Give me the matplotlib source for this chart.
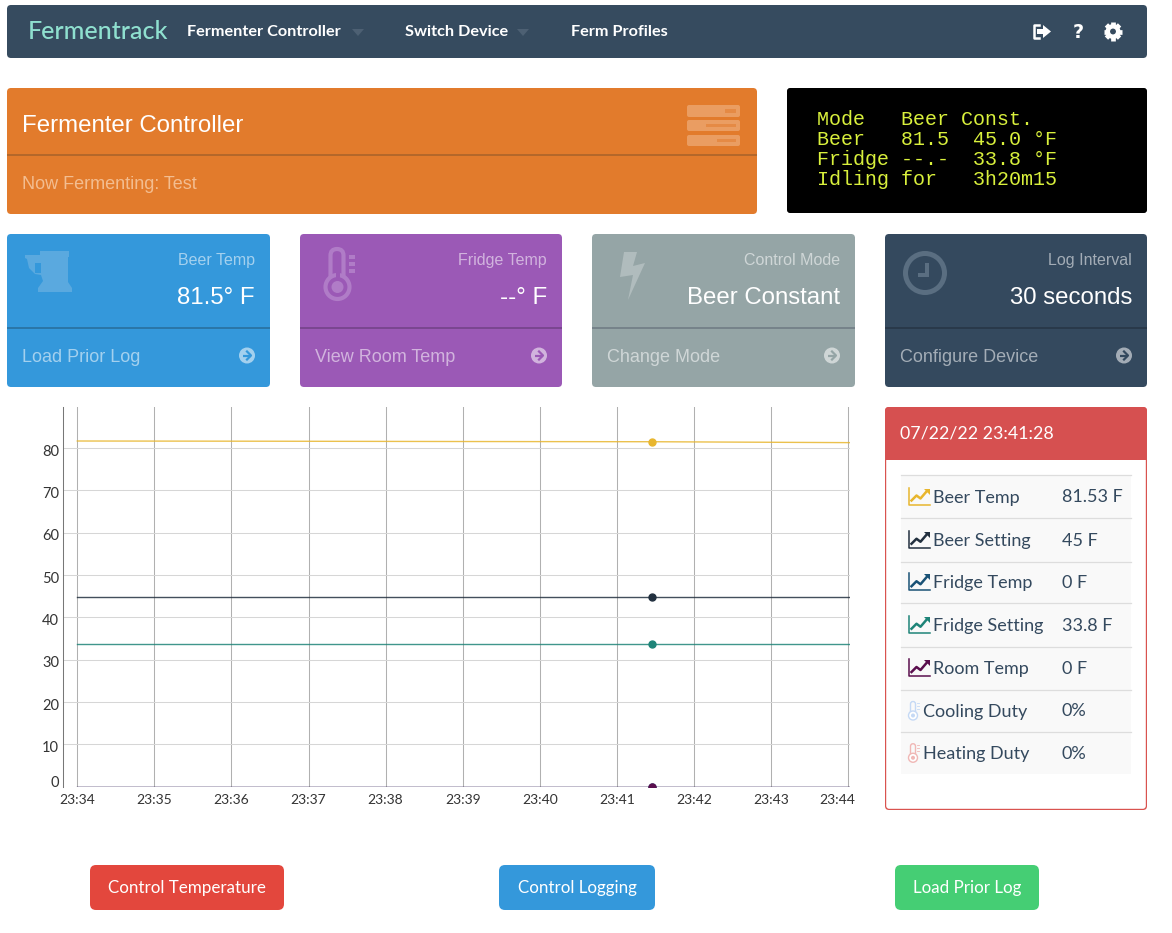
import numpy as np
import matplotlib
matplotlib.use("Agg")
import matplotlib.pyplot as plt
from matplotlib.patches import FancyBboxPatch, Rectangle, Circle, Polygon
from matplotlib.transforms import ScaledTranslation

# chart data, minutes after 23:34
times = [0, 2.5, 5, 7.46, 10.2]
beer_temp = [81.7, 81.65, 81.58, 81.53, 81.3]
beer_setting = [44.9, 44.9, 44.9, 44.9, 44.9]
fridge_temp = [0, 0, 0, 0, 0]
fridge_setting = [33.7, 33.7, 33.7, 33.7, 33.7]
room_temp = [0, 0, 0, 0, 0]

x_labels = ['23:34', '23:35', '23:36', '23:37', '23:38', '23:39', '23:40', '23:41', '23:42', '23:43', '23:44']
y_ticks = [0, 10, 20, 30, 40, 50, 60, 70, 80]

# side table
row_names = ['Beer Temp', 'Beer Setting', 'Fridge Temp', 'Fridge Setting', 'Room Temp', 'Cooling Duty', 'Heating Duty']
row_values = ['81.53 F', '45 F', '0 F', '33.8 F', '0 F', '0%', '0%']
row_colors = ['#e8b62e', '#22303f', '#1a5276', '#1e8478', '#5b0f4e', '#c5d9f5', '#f0b7b5']

# tiles
tile_titles = ['Beer Temp', 'Fridge Temp', 'Control Mode', 'Log Interval']
tile_values = ['81.5° F', '--° F', 'Beer Constant', '30 seconds']
tile_links = ['Load Prior Log', 'View Room Temp', 'Change Mode', 'Configure Device']
tile_colors = ['#3498db', '#9b59b6', '#95a5a6', '#34495e']
tile_lines = ['#2a76a8', '#7a4690', '#76838a', '#29394a']

lcd_lines = ['Mode   Beer Const.', 'Beer   81.5  45.0 °F', 'Fridge --.-  33.8 °F', 'Idling for   3h20m15']

W, H = 1172, 933
fig = plt.figure(figsize=(W / 100, H / 100), dpi=100)
bg = fig.add_axes([0, 0, 1, 1])
bg.set_xlim(0, W)
bg.set_ylim(H, 0)
bg.axis('off')


def box(x0, y0, x1, y1, color, r=4, **kw):
    p = FancyBboxPatch((x0 + r, y0 + r), x1 - x0 - 2 * r, y1 - y0 - 2 * r,
                       boxstyle='round,pad=%g,rounding_size=%g' % (r, r),
                       fc=color, ec='none', **kw)
    bg.add_patch(p)
    return p


def txt(x, y, s, size, color='white', family='Lato', ha='left', **kw):
    # size is given in css pixels, the 1.5 brings the text down onto the reference
    bg.text(x, y + 1.5, s, fontsize=size * 0.72, color=color, family=family, ha=ha, va='center', **kw)


def arrow_circle(cx, cy, back):
    bg.plot([cx - 4.5, cx + 4], [cy, cy], color=back, lw=1.6, solid_capstyle='butt')
    bg.plot([cx, cx + 4, cx], [cy - 4, cy, cy + 4], color=back, lw=1.6)


def chart_icon(x, y, color):
    bg.plot([x, x, x + 21], [y - 15, y + 2, y + 2], color=color, lw=1.1)
    bg.plot([x + 3, x + 8, x + 12, x + 18], [y - 2, y - 7, y - 4, y - 11], color=color, lw=1.8)
    bg.add_patch(Polygon([[x + 15, y - 14], [x + 21, y - 14], [x + 21, y - 8]], fc=color, ec='none'))


def small_thermo(cx, cy, color):
    bg.add_patch(FancyBboxPatch((cx - 2.5, cy - 9), 5, 14,
                                boxstyle='round,pad=0,rounding_size=2.5',
                                fc='none', ec=color, lw=1))
    bg.add_patch(Circle((cx, cy + 5), 4.5, fc='white', ec=color, lw=1))
    bg.add_patch(Circle((cx, cy + 5), 2, fc=color, ec='none'))
    for dy in [-8, -5, -2]:
        bg.plot([cx + 4, cx + 6], [cy + dy, cy + dy], color=color, lw=0.6)


# navbar
box(7, 5, 1147, 58, '#364b5f')
txt(28, 30, 'Fermentrack', 25, color='#8fe0cf', weight='medium')
txt(187, 30, 'Fermenter Controller', 16.2, weight='bold')
bg.add_patch(Polygon([[352, 29], [364, 29], [358, 36]], fc='#4d6073', ec='none'))
txt(405, 30, 'Switch Device', 16.2, weight='bold')
bg.add_patch(Polygon([[517, 29], [529, 29], [523, 36]], fc='#4d6073', ec='none'))
txt(571, 30, 'Ferm Profiles', 16.2, weight='bold')
# sign out, help, settings
bg.plot([1039, 1033.5, 1033.5, 1039], [25, 25, 38, 38], color='white', lw=1.8)
bg.add_patch(Polygon([[1037, 29], [1043, 29], [1043, 25], [1051, 31.5], [1043, 38], [1043, 34], [1037, 34]], fc='white', ec='none'))
txt(1078, 30.5, '?', 19, family='DejaVu Sans', ha='center', weight='bold')
for a in np.arange(0, 360, 45):
    c, s = np.cos(np.radians(a)), np.sin(np.radians(a))
    bg.plot([1113 + 5 * c, 1113 + 9.3 * c], [31.5 + 5 * s, 31.5 + 9.3 * s], color='white', lw=3.4, solid_capstyle='butt')
bg.add_patch(Circle((1113, 31.5), 5.2, fc='none', ec='white', lw=3.2))

# orange header
box(7, 88, 757, 214, '#e27b2c')
bg.add_patch(Rectangle((7, 154), 750, 2, fc='#b4672a', ec='none'))
txt(22, 124.5, 'Fermenter Controller', 24, family='Liberation Sans')
txt(22, 183, 'Now Fermenting: Test', 18, color='#f3bd90', family='Liberation Sans')
# server icon
server_y = [(105, 117), (120, 131), (135, 146)]
slot_x = [725, 706, 717]
for (y0, y1), sx in zip(server_y, slot_x):
    box(687, y0, 740, y1, '#ea9d62', r=2)
    bg.add_patch(Rectangle((sx, (y0 + y1) / 2 - 1.7), 736 - sx, 3.4, fc='#e58a45', ec='none'))

# lcd
box(787, 88, 1147, 213, 'black', r=3)
for i, line in enumerate(lcd_lines):
    txt(817, 118 + i * 20, line, 20, color='#d9f03c', family='Liberation Mono')

# tiles
tile_x = [(7, 270), (300, 562), (592, 855), (885, 1147)]
for i, (x0, x1) in enumerate(tile_x):
    box(x0, 234, x1, 387, tile_colors[i])
    bg.add_patch(Rectangle((x0, 327), x1 - x0, 2, fc=tile_lines[i], ec='none'))
    txt(x1 - 15, 259, tile_titles[i], 16, family='Liberation Sans', ha='right', alpha=0.55)
    txt(x1 - 15, 297, tile_values[i], 24, family='Liberation Sans', ha='right')
    txt(x0 + 15, 355.5, tile_links[i], 18, family='Liberation Sans', alpha=0.55)
    bg.add_patch(Circle((x1 - 23, 355.5), 8, fc='white', ec='none', alpha=0.55))
    arrow_circle(x1 - 23, 355.5, tile_colors[i])

# beer mug
mug = '#5aa9df'
bg.add_patch(Polygon([[40, 251], [69, 251], [69, 257], [68, 257], [68, 282], [72, 288], [72, 292],
                      [38, 292], [38, 288], [43, 281], [41, 275], [35, 274], [29, 268], [27, 259],
                      [25, 258], [25, 255], [40, 255]], fc=mug, ec='none'))
bg.add_patch(Rectangle((35, 263), 6, 10, fc='#3498db', ec='none'))

# big thermometer
th = '#b07cc7'
bg.add_patch(FancyBboxPatch((330.5, 249), 13, 36, boxstyle='round,pad=0,rounding_size=6.5', fc='none', ec=th, lw=3))
bg.add_patch(Circle((337.5, 287), 12, fc='#9b59b6', ec=th, lw=3))
bg.add_patch(Rectangle((335.5, 255), 4, 28, fc='#9b59b6', ec='none'))
bg.add_patch(Circle((337.5, 287), 6, fc=th, ec='none'))
for y in [257, 264, 271]:
    bg.add_patch(Rectangle((349, y - 2), 6, 4, fc=th, ec='none'))

# bolt
bg.add_patch(Polygon([[624, 252], [637, 252], [633, 266], [645, 263], [628, 300], [633, 275], [620, 277]], fc='#b0bcbd', ec='none'))

# clock
ck = '#5a6e81'
bg.add_patch(Circle((925, 273), 19.5, fc='none', ec=ck, lw=3.6))
bg.add_patch(Rectangle((925, 263), 4, 14, fc=ck, ec='none'))
bg.add_patch(Rectangle((918, 273), 11, 4, fc=ck, ec='none'))

# side panel
box(885, 407, 1147, 810, '#d9534f', r=4)
box(886.2, 408, 1145.8, 808.8, 'white', r=3)
box(885, 407, 1147, 440, '#d65050', r=4)
bg.add_patch(Rectangle((885, 425), 262, 35, fc='#d65050', ec='none'))
txt(900, 432, '07/22/22 23:41:28', 17.7)
row_y = [475, 518, 561.5, 603, 646.5, 689.5, 731.5, 774]
for i, name in enumerate(row_names):
    y0, y1 = row_y[i], row_y[i + 1]
    mid = (y0 + y1) / 2
    bg.add_patch(Rectangle((901, y0), 230, y1 - y0, fc='#f9f9f9', ec='none'))
    bg.plot([901, 1131], [y0, y0], color='#dddddd', lw=0.9)
    if i < 5:
        chart_icon(908.5, mid + 6, row_colors[i])
        txt(933, mid - 0.5, name, 18, color='#34495e')
    else:
        small_thermo(913, mid, row_colors[i])
        txt(923, mid - 0.5, name, 18, color='#34495e')
    txt(1062, mid - 0.5, row_values[i], 18, color='#34495e')

# buttons
box(90, 865, 284, 910, '#e3473d', r=6)
txt(187, 887, 'Control Temperature', 17, ha='center')
box(499, 865, 655, 910, '#3498db', r=6)
txt(577, 887, 'Control Logging', 17, ha='center')
box(895, 865, 1039, 910, '#45ce74', r=6)
txt(967, 887, 'Load Prior Log', 17, ha='center')

# chart
left, right, top, bottom = 63.3, 850, 407, 786.6
ax = fig.add_axes([left / W, 1 - bottom / H, (right - left) / W, (bottom - top) / H])
ax.set_xlim((left - 77.3) / 77.07, (right - 77.3) / 77.07)
ax.set_ylim(0, (bottom - top) / 4.23)
ax.patch.set_alpha(0)
ax.set_xticks(range(len(x_labels)))
ax.set_xticklabels(x_labels, family='Lato', fontsize=10, color='#333333')
ax.set_yticks(y_ticks)
ax.set_yticklabels([str(v) for v in y_ticks], family='Lato', fontsize=10.5, color='#333333', va='center_baseline')
ax.tick_params(length=0, pad=3)
ax.tick_params(axis='x', pad=5)
ax.grid(axis='x', color='#b0b0b0', lw=0.75)
ax.grid(axis='y', color='#d6d6d6', lw=0.75)
ax.set_axisbelow(True)
for sp in ['top', 'right', 'bottom']:
    ax.spines[sp].set_visible(False)
ax.spines['left'].set_color('#777777')
ax.spines['left'].set_linewidth(0.75)

# dygraph nudges its labels: y labels sit a bit low, the 0 sits above the axis, last x label stays inside
down = ScaledTranslation(0, -2 / 100, fig.dpi_scale_trans)
for lab in ax.get_yticklabels()[1:]:
    lab.set_transform(lab.get_transform() + down)
zero = ax.get_yticklabels()[0]
zero.set_va('bottom')
zero.set_transform(zero.get_transform() + ScaledTranslation(0, -3 / 100, fig.dpi_scale_trans))
last = ax.get_xticklabels()[-1]
last.set_ha('right')
last.set_transform(last.get_transform() + ScaledTranslation(7 / 100, 0, fig.dpi_scale_trans))

series = [beer_temp, beer_setting, fridge_temp, fridge_setting, room_temp]
for vals, col in zip(series, row_colors[:5]):
    ax.plot(times, vals, color=col, lw=1, alpha=0.85)
    ax.plot(times[3], vals[3], 'o', color=col, ms=5)

fig.savefig('out.png', dpi=100)
